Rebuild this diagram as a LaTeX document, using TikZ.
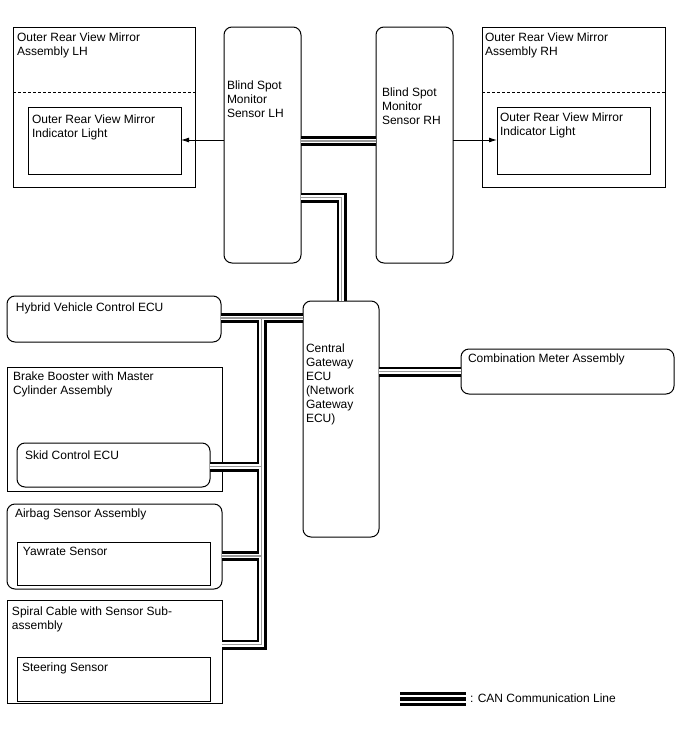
\documentclass[tikz,border=0pt]{standalone}
\usepackage{fontspec}
\setmainfont{Liberation Sans}
\usetikzlibrary{fit,arrows.meta}
\begin{document}
\begin{tikzpicture}[x=1pt,y=-1pt,
  box/.style={draw=black, line width=1pt, inner sep=0pt, outer sep=0pt},
  rbox/.style={box, rounded corners=8pt},
  lbl/.style={anchor=north west, inner sep=0pt, outer sep=0pt, align=left, font=\fontsize{12}{14}\selectfont},
  sig/.style={line width=0.9pt, -{Latex[length=8pt,width=5pt]}},
  dashline/.style={line width=1pt, dash pattern=on 3pt off 2pt},
  canline/.style={line join=miter, line cap=butt},
]
\useasboundingbox (0,0) rectangle (688,755);

% boxes
\node[box,  fit={(13,27) (195,187)}] (mlh) {};
\node[box,  fit={(28,107) (181,174)}] (ilh) {};
\node[rbox, fit={(224,27) (301,263)}] (bsl) {};
\node[rbox, fit={(376,27) (453,263)}] (bsr) {};
\node[box,  fit={(482,27) (665,187)}] (mrh) {};
\node[box,  fit={(497,107) (650,174)}] (irh) {};
\node[rbox, fit={(7,296) (221,342)}] (hv) {};
\node[rbox, fit={(303,301) (379,537)}] (gw) {};
\node[rbox, fit={(461,349) (674,394)}] (cm) {};
\node[box,  fit={(7,367) (222,491)}] (bb) {};
\node[rbox, fit={(17,443) (210,487)}] (sk) {};
\node[rbox, fit={(7,504) (222,589)}] (ab) {};
\node[box,  fit={(17,542) (210,585)}] (yr) {};
\node[box,  fit={(7,600) (222,703)}] (sc) {};
\node[box,  fit={(17,657) (210,701)}] (ss) {};

% dashed separators
\draw[dashline] (mlh.west |- 0,92) -- (mlh.east |- 0,92);
\draw[dashline] (mrh.west |- 0,92) -- (mrh.east |- 0,92);

% labels
\node[lbl] (t1) at (17,33) {Outer Rear View Mirror\\Assembly LH};
\node[lbl] (t2) at (32,115) {Outer Rear View Mirror\\Indicator Light};
\node[lbl] (t3) at (227,81) {Blind Spot\\Monitor\\Sensor LH};
\node[lbl] (t4) at (382,88) {Blind Spot\\Monitor\\Sensor RH};
\node[lbl] (t5) at (485,33) {Outer Rear View Mirror\\Assembly RH};
\node[lbl] (t6) at (500,113) {Outer Rear View Mirror\\Indicator Light};
\node[lbl] (t7) at (16,303) {Hybrid Vehicle Control ECU};
\node[lbl] (t8) at (13,372) {Brake Booster with Master\\Cylinder Assembly};
\node[lbl] (t9) at (25,451) {Skid Control ECU};
\node[lbl] (t10) at (306,344) {Central\\Gateway\\ECU\\(Network\\Gateway\\ECU)};
\node[lbl] (t11) at (468,354) {Combination Meter Assembly};
\node[lbl] (t12) at (15,509) {Airbag Sensor Assembly};
\node[lbl] (t13) at (23,547) {Yawrate Sensor};
\node[lbl] (t14) at (12,607) {Spiral Cable with Sensor Sub-\\assembly};
\node[lbl] (t15) at (22,663) {Steering Sensor};
\node[lbl] (t16) at (470,694) {: CAN Communication Line};

% signal arrows
\draw[sig] (bsl.west |- 0,140) -- (ilh.east |- 0,140);
\draw[sig] (bsr.east |- 0,140) -- (irh.west |- 0,140);

% CAN lines (three passes for merged junctions)
\coordinate (trunk) at (261.5,318);
\foreach \w/\c in {10/black,4.4/white,1.2/black!40}{
  \draw[canline, line width=\w pt, draw=\c] (bsl.east |- 0,141) -- (bsr.west |- 0,141);
  \draw[canline, line width=\w pt, draw=\c] (bsl.east |- 0,197.5) -| (gw.north -| 341.5,0);
  \draw[canline, line width=\w pt, draw=\c] (hv.east |- trunk) -- (gw.west |- trunk);
  \draw[canline, line width=\w pt, draw=\c] (trunk) |- (sc.east |- 0,644.5);
  \draw[canline, line width=\w pt, draw=\c] (sk.east |- 0,466.5) -- (trunk |- 0,466.5);
  \draw[canline, line width=\w pt, draw=\c] (ab.east |- 0,556) -- (trunk |- 0,556);
  \draw[canline, line width=\w pt, draw=\c] (gw.east |- 0,371.5) -- (cm.west |- 0,371.5);
}

% legend
\coordinate (lgA) at (400,699);
\coordinate (lgB) at (466,699);
\draw[canline, line width=14pt, draw=black] (lgA) -- (lgB);
\draw[canline, line width=8pt, draw=white] (lgA) -- (lgB);
\draw[canline, line width=4pt, draw=black] (lgA) -- (lgB);
\end{tikzpicture}
\end{document}
